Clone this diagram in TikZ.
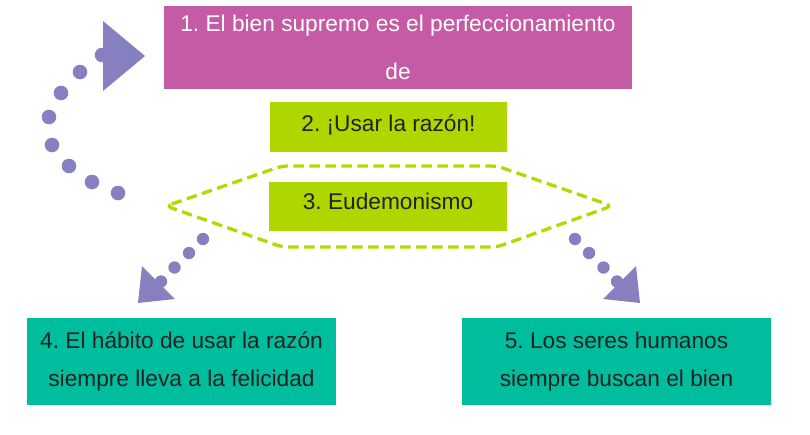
\documentclass[tikz,border=0pt]{standalone}
\usepackage{fontspec}
\setmainfont{Liberation Sans}
\frenchspacing
\definecolor{magbox}{HTML}{C55AA5}
\definecolor{limebox}{HTML}{B0D600}
\definecolor{tealbox}{HTML}{00BD9D}
\definecolor{arrowpurple}{HTML}{8780C0}
\definecolor{dashlime}{HTML}{B4D800}
\definecolor{darktext}{HTML}{222222}
\begin{document}
\begin{tikzpicture}[x=1pt,y=-1pt,
  boxbase/.style={draw=none, inner sep=0pt, align=center},
  magstyle/.style={boxbase, fill=magbox, text=white, font=\fontsize{22.7}{48}\selectfont\frenchspacing},
  limestyle/.style={boxbase, fill=limebox, text=darktext, font=\fontsize{22.7}{27}\selectfont\frenchspacing, text height=16pt},
  tealstyle/.style={boxbase, fill=tealbox, text=darktext, font=\fontsize{22.7}{38}\selectfont\frenchspacing},
  hexdash/.style={draw=dashlime, line width=3.3pt, dash pattern=on 10.5pt off 5.5pt, rounded corners=6pt},
  dotbig/.style={fill=arrowpurple, draw=none},
  headtri/.style={fill=arrowpurple, draw=none}
]
\useasboundingbox (0,0) rectangle (810,434);

% boxes
\node[magstyle, minimum width=468pt, minimum height=83pt] (b1) at (398,47.5)
  {1. El bien supremo es el perfeccionamiento\\de};
\node[limestyle, minimum width=237pt, minimum height=50pt, text depth=8pt] (b2) at (388.5,127)
  {2. ¡Usar la razón!};

% dashed hexagon
\coordinate (hL) at (166,206);
\coordinate (hTL) at (282,166);
\coordinate (hTR) at (497,166);
\coordinate (hR) at (612,206);
\coordinate (hBR) at (497,247);
\coordinate (hBL) at (282,247);
\draw[hexdash] (hL) -- (hTL) -- (hTR) -- (hR) -- (hBR) -- (hBL) -- cycle;

\node[limestyle, minimum width=238pt, minimum height=49pt, text depth=11pt] (b3) at (388,206.5)
  {3. Eudemonismo};

\node[tealstyle, minimum width=309pt, minimum height=87pt] (b4) at (181.5,361.5)
  {4. El hábito de usar la razón\\siempre lleva a la felicidad};
\node[tealstyle, minimum width=309pt, minimum height=87pt] (b5) at (616.5,361.5)
  {5. Los seres humanos\\siempre buscan el bien};

% top-left curved dotted arrow
\foreach \px/\py in {118/193, 92/182, 69/166, 52/145, 49/117, 61/93, 80/72, 102/55}
  \fill[dotbig] (\px,\py) circle (7.3pt);
\coordinate (tA) at (103,21);
\coordinate (tB) at (145,56);
\coordinate (tC) at (103,91);
\fill[headtri] (tA) -- (tB) -- (tC) -- cycle;

% lower-left dotted arrow
\foreach \px/\py in {203/239, 189/253, 174.5/267.5, 161/281.5}
  \fill[dotbig] (\px,\py) circle (6.2pt);
\coordinate (lA) at (142,266);
\coordinate (lB) at (175,299);
\coordinate (lC) at (138,303);
\fill[headtri] (lA) -- (lB) -- (lC) -- cycle;

% lower-right dotted arrow
\foreach \px/\py in {575/239, 589/253, 603.5/267.5, 617/281.5}
  \fill[dotbig] (\px,\py) circle (6.2pt);
\coordinate (rA) at (636,266);
\coordinate (rB) at (603,299);
\coordinate (rC) at (640,303);
\fill[headtri] (rA) -- (rB) -- (rC) -- cycle;
\end{tikzpicture}
\end{document}
